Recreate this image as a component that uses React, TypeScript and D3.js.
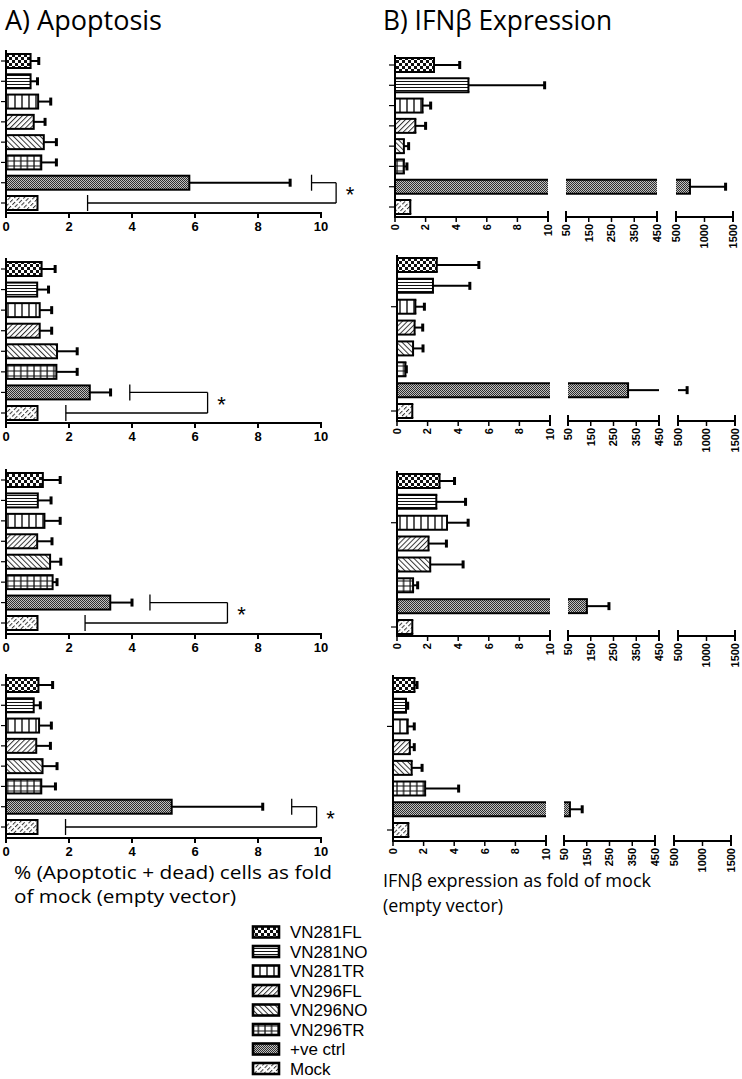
import React from "react";
import * as d3 from "d3";

const categories = ["VN281FL", "VN281NO", "VN281TR", "VN296FL", "VN296NO", "VN296TR", "+ve ctrl", "Mock"];

// Panel A: apoptosis fold of mock (mean, SEM)
const apoMean1 = [0.78, 0.78, 1.02, 0.88, 1.2, 1.12, 5.82, 1.0];
const apoErr1 = [0.26, 0.22, 0.4, 0.36, 0.4, 0.48, 3.2, 0];
const apoMean2 = [1.13, 0.99, 1.07, 1.07, 1.62, 1.6, 2.66, 1.0];
const apoErr2 = [0.43, 0.36, 0.38, 0.38, 0.64, 0.66, 0.66, 0];
const apoMean3 = [1.17, 1.01, 1.22, 0.99, 1.4, 1.48, 3.31, 1.0];
const apoErr3 = [0.55, 0.42, 0.5, 0.47, 0.34, 0.14, 0.69, 0];
const apoMean4 = [1.03, 0.88, 1.05, 0.96, 1.16, 1.12, 5.26, 1.0];
const apoErr4 = [0.45, 0.21, 0.39, 0.45, 0.46, 0.45, 2.89, 0];
// significance bracket: [top arm start, right edge, bottom arm start]
const apoBracket1 = [9.7, 10.48, 2.59];
const apoBracket2 = [3.93, 6.4, 1.9];
const apoBracket3 = [4.57, 7.03, 2.51];
const apoBracket4 = [9.07, 9.86, 1.89];

// Panel B: IFNb expression fold of mock (mean, SEM)
const ifnMean1 = [2.55, 4.8, 1.8, 1.33, 0.58, 0.58, 745, 1.0];
const ifnErr1 = [1.68, 4.98, 0.53, 0.67, 0.31, 0.2, 625, 0];
const ifnMean2 = [2.6, 2.35, 1.2, 1.15, 1.05, 0.55, 314, 1.0];
const ifnErr2 = [2.75, 2.41, 0.59, 0.53, 0.65, 0.06, 346, 0];
const ifnMean3 = [2.78, 2.57, 3.27, 2.06, 2.17, 1.05, 133, 1.0];
const ifnErr3 = [0.98, 1.91, 1.38, 1.17, 2.15, 0.3, 97, 0];
const ifnMean4 = [1.4, 0.85, 0.96, 1.1, 1.22, 2.1, 76, 1.0];
const ifnErr4 = [0.17, 0.11, 0.43, 0.29, 0.68, 2.19, 54, 0];

const apoTicks = [0, 2, 4, 6, 8, 10];
const ifnTicks1 = [0, 2, 4, 6, 8, 10];
const ifnTicks2 = [50, 150, 250, 350, 450];
const ifnTicks3 = [500, 1000, 1500];
const ifnDomains = [[0, 10], [50, 450], [500, 1500]];

const apoData = [
  { mean: apoMean1, err: apoErr1, br: apoBracket1 },
  { mean: apoMean2, err: apoErr2, br: apoBracket2 },
  { mean: apoMean3, err: apoErr3, br: apoBracket3 },
  { mean: apoMean4, err: apoErr4, br: apoBracket4 },
];
const ifnData = [
  { mean: ifnMean1, err: ifnErr1 },
  { mean: ifnMean2, err: ifnErr2 },
  { mean: ifnMean3, err: ifnErr3 },
  { mean: ifnMean4, err: ifnErr4 },
];

// layout
const aLayout = [
  { axisY: 213, first: 61, last: 203 },
  { axisY: 423, first: 269, last: 413 },
  { axisY: 634, first: 480, last: 623 },
  { axisY: 838, first: 685, last: 827 },
];
const bLayout = [
  { axisY: 217, first: 65, last: 207, dx: 0, allTicks: true },
  { axisY: 421, first: 265, last: 411, dx: 2, allTicks: false },
  { axisY: 636, first: 481, last: 627, dx: 2, allTicks: false },
  { axisY: 841, first: 685, last: 830, dx: -2, allTicks: false },
];
const bRanges = [[395, 548], [566, 657], [676, 733]];
const BH = 14;
const TICKFONT = "Arial, 'Liberation Sans', sans-serif";
const TEXTFONT = "'Open Sans', 'Noto Sans', sans-serif";

function Patterns() {
  return (
    <defs>
      <pattern id="p0" patternUnits="userSpaceOnUse" width="6" height="6">
        <rect width="6" height="6" fill="#fff" />
        <rect x="0" y="0" width="3" height="3" fill="#111" />
        <rect x="3" y="3" width="3" height="3" fill="#111" />
      </pattern>
      <pattern id="p1" patternUnits="userSpaceOnUse" width="4" height="3">
        <rect width="4" height="3" fill="#fff" />
        <line x1="0" x2="4" y1="0.5" y2="0.5" stroke="#111" strokeWidth="1" />
      </pattern>
      <pattern id="p2" patternUnits="userSpaceOnUse" width="7" height="4">
        <rect width="7" height="4" fill="#fff" />
        <line x1="1" x2="1" y1="0" y2="4" stroke="#111" strokeWidth="1.4" />
      </pattern>
      <pattern id="p3" patternUnits="userSpaceOnUse" width="3.6" height="4" patternTransform="rotate(45)">
        <rect width="3.6" height="4" fill="#fff" />
        <line x1="0.5" x2="0.5" y1="0" y2="4" stroke="#333" strokeWidth="1" />
      </pattern>
      <pattern id="p4" patternUnits="userSpaceOnUse" width="3.8" height="4" patternTransform="rotate(-45)">
        <rect width="3.8" height="4" fill="#fff" />
        <line x1="0.5" x2="0.5" y1="0" y2="4" stroke="#333" strokeWidth="1" />
      </pattern>
      <pattern id="p5" patternUnits="userSpaceOnUse" width="6.6" height="5">
        <rect width="6.6" height="5" fill="#fff" />
        <line x1="1" x2="1" y1="0" y2="5" stroke="#111" strokeWidth="1.3" />
        <line x1="0" x2="6.6" y1="1" y2="1" stroke="#111" strokeWidth="1" />
      </pattern>
      <pattern id="p6" patternUnits="userSpaceOnUse" width="2" height="2">
        <rect width="2" height="2" fill="#c0c0c0" />
        <rect x="0" y="0" width="1" height="1" fill="#2e2e2e" />
        <rect x="1" y="1" width="1" height="1" fill="#2e2e2e" />
      </pattern>
      <pattern id="p7" patternUnits="userSpaceOnUse" width="3.4" height="6" patternTransform="rotate(45)">
        <rect width="3.4" height="6" fill="#fff" />
        <line x1="0.5" x2="0.5" y1="0" y2="6" stroke="#333" strokeWidth="1" strokeDasharray="4 2" />
      </pattern>
    </defs>
  );
}

function ErrorCap({ x, y }: { x: number; y: number }) {
  return <rect x={x - 1.5} y={y - 4} width={3} height={8} fill="#000" />;
}

function ApoPanel({ row }: { row: number }) {
  const L = aLayout[row];
  const d = apoData[row];
  const x = d3.scaleLinear().domain([0, 10]).range([6, 321]);
  const y = d3.scalePoint<string>().domain(categories).range([L.first, L.last]);
  const yPos = y("+ve ctrl") as number;
  const yMock = y("Mock") as number;
  const [b0, b1, b2] = d.br;
  return (
    <g>
      {categories.map((c, i) => {
        const cy = y(c) as number;
        const v = d.mean[i];
        const e = d.err[i];
        return (
          <g key={c}>
            {e > 0 && (
              <g>
                <line x1={x(v)} x2={x(v + e)} y1={cy} y2={cy} stroke="#000" strokeWidth={2} />
                <ErrorCap x={x(v + e)} y={cy} />
              </g>
            )}
            <rect x={x(0)} y={cy - BH / 2} width={x(v) - x(0)} height={BH} fill={`url(#p${i})`} stroke="#000" strokeWidth={2} />
            <line x1={x(0) - 5} x2={x(0)} y1={cy} y2={cy} stroke="#000" strokeWidth={1.2} />
          </g>
        );
      })}
      <line x1={x(0)} x2={x(0)} y1={L.first - BH / 2 - 4} y2={L.axisY} stroke="#000" strokeWidth={2} />
      <line x1={x(0) - 1} x2={x(10) + 1} y1={L.axisY} y2={L.axisY} stroke="#000" strokeWidth={2} />
      {apoTicks.map((t) => (
        <g key={t}>
          <line x1={x(t)} x2={x(t)} y1={L.axisY} y2={L.axisY + 5} stroke="#000" strokeWidth={2} />
          <text x={x(t)} y={L.axisY + 18} textAnchor="middle" fontFamily={TICKFONT} fontWeight="bold" fontSize={13}>
            {t}
          </text>
        </g>
      ))}
      <g stroke="#000" strokeWidth={1.3} fill="none">
        <line x1={x(b0)} x2={x(b0)} y1={yPos - 8} y2={yPos + 8} />
        <line x1={x(b0)} x2={x(b1)} y1={yPos} y2={yPos} />
        <line x1={x(b1)} x2={x(b1)} y1={yPos} y2={yMock} />
        <line x1={x(b2)} x2={x(b1)} y1={yMock} y2={yMock} />
        <line x1={x(b2)} x2={x(b2)} y1={yMock - 8} y2={yMock + 8} />
      </g>
      <text x={x(b1) + 14} y={(yPos + yMock) / 2 + 9} textAnchor="middle" fontFamily={TICKFONT} fontSize={22}>
        *
      </text>
    </g>
  );
}

function IfnPanel({ row }: { row: number }) {
  const L = bLayout[row];
  const d = ifnData[row];
  const segs = ifnDomains.map((dom, k) =>
    d3.scaleLinear().domain(dom).range([bRanges[k][0] + L.dx, bRanges[k][1] + L.dx])
  );
  const tickSets = [ifnTicks1, ifnTicks2, ifnTicks3];
  const y = d3.scalePoint<string>().domain(categories).range([L.first, L.last]);
  const x0 = segs[0](0);
  return (
    <g>
      {categories.map((c, i) => {
        const cy = y(c) as number;
        const v = d.mean[i];
        const e = d.err[i];
        const top = v + e;
        const parts: React.ReactNode[] = [];
        segs.forEach((s, k) => {
          const [d0, d1] = s.domain();
          if (v > d0) {
            const xa = s(d0);
            const xb = s(Math.min(v, d1));
            parts.push(
              <g key={`b${k}`}>
                <rect x={xa} y={cy - BH / 2} width={xb - xa} height={BH} fill={`url(#p${i})`} />
                <line x1={xa - (d0 === 0 ? 1 : 0)} x2={xb + (v <= d1 ? 1 : 0)} y1={cy - BH / 2} y2={cy - BH / 2} stroke="#000" strokeWidth={2} />
                <line x1={xa - (d0 === 0 ? 1 : 0)} x2={xb + (v <= d1 ? 1 : 0)} y1={cy + BH / 2} y2={cy + BH / 2} stroke="#000" strokeWidth={2} />
                {d0 === 0 && <line x1={xa} x2={xa} y1={cy - BH / 2} y2={cy + BH / 2} stroke="#000" strokeWidth={2} />}
                {v <= d1 && <line x1={xb} x2={xb} y1={cy - BH / 2} y2={cy + BH / 2} stroke="#000" strokeWidth={2} />}
              </g>
            );
          }
          if (e > 0) {
            const lo = Math.max(v, d0);
            const hi = Math.min(top, d1);
            if (hi > lo) {
              parts.unshift(
                <line key={`e${k}`} x1={s(lo)} x2={s(hi)} y1={cy} y2={cy} stroke="#000" strokeWidth={2} />
              );
            }
            if (top >= d0 && top <= d1) {
              parts.push(<ErrorCap key={`c${k}`} x={s(top)} y={cy} />);
            }
          }
        });
        return (
          <g key={c}>
            {parts}
            {(L.allTicks || i === 2 || i === 7) && (
              <line x1={x0 - 6} x2={x0} y1={cy} y2={cy} stroke="#000" strokeWidth={1.2} />
            )}
          </g>
        );
      })}
      <line x1={x0} x2={x0} y1={L.first - BH / 2 - 3} y2={L.axisY} stroke="#000" strokeWidth={2} />
      {segs.map((s, k) => {
        const [d0, d1] = s.domain();
        return (
          <g key={k}>
            <line x1={s(d0) - (k === 0 ? 1 : 0)} x2={s(d1)} y1={L.axisY} y2={L.axisY} stroke="#000" strokeWidth={2} />
            {tickSets[k].map((t) => {
              const isEnd = t === d1 || (t === d0 && k > 0);
              return (
                <g key={t}>
                  <line x1={s(t)} x2={s(t)} y1={isEnd ? L.axisY - 6 : L.axisY} y2={L.axisY + 5} stroke="#000" strokeWidth={isEnd ? 2 : 1.5} />
                  <text
                    transform={`translate(${s(t) + 3.8},${L.axisY + 7}) rotate(-90)`}
                    textAnchor="end"
                    fontFamily={TICKFONT}
                    fontWeight="bold"
                    fontSize={11}
                  >
                    {t}
                  </text>
                </g>
              );
            })}
          </g>
        );
      })}
    </g>
  );
}

function Legend() {
  const y0 = 932;
  const step = 19.5;
  return (
    <g>
      {categories.map((c, i) => (
        <g key={c}>
          <rect x={253} y={y0 + i * step - 5.5} width={26} height={11} fill={`url(#p${i})`} stroke="#000" strokeWidth={2.6} />
          <text x={290} y={y0 + i * step + 6} fontFamily={TICKFONT} fontSize={17}>
            {c}
          </text>
        </g>
      ))}
    </g>
  );
}

export default function App() {
  return (
    <svg
      width={742}
      height={1079}
      viewBox="0 0 742 1079"
      style={{ position: "absolute", left: 0, top: 0, background: "#fff" }}
    >
      <rect width={742} height={1079} fill="#fff" />
      <Patterns />
      <text x={5} y={30} fontFamily={TEXTFONT} fontSize={28} textLength={157} lengthAdjust="spacingAndGlyphs">
        A) Apoptosis
      </text>
      <text x={383} y={30} fontFamily={TEXTFONT} fontSize={28} textLength={229} lengthAdjust="spacingAndGlyphs">
        B) IFNβ Expression
      </text>
      {[0, 1, 2, 3].map((r) => (
        <ApoPanel key={`a${r}`} row={r} />
      ))}
      {[0, 1, 2, 3].map((r) => (
        <IfnPanel key={`b${r}`} row={r} />
      ))}
      <text x={14} y={879} fontFamily={TEXTFONT} fontSize={19} textLength={318} lengthAdjust="spacingAndGlyphs">
        % (Apoptotic + dead) cells as fold
      </text>
      <text x={14} y={903} fontFamily={TEXTFONT} fontSize={19} textLength={222} lengthAdjust="spacingAndGlyphs">
        of mock (empty vector)
      </text>
      <text x={383} y={887} fontFamily={TEXTFONT} fontSize={19} textLength={268} lengthAdjust="spacingAndGlyphs">
        IFNβ expression as fold of mock
      </text>
      <text x={383} y={912} fontFamily={TEXTFONT} fontSize={19} textLength={120} lengthAdjust="spacingAndGlyphs">
        (empty vector)
      </text>
      <Legend />
    </svg>
  );
}
